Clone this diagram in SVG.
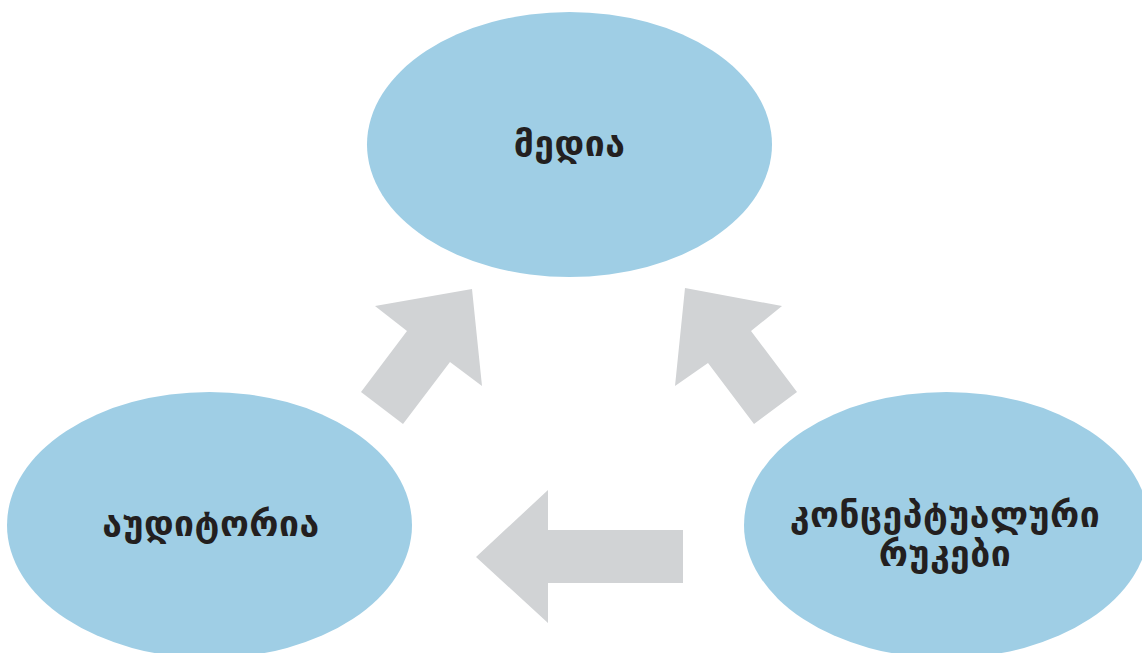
<svg xmlns="http://www.w3.org/2000/svg" width="1142" height="653" viewBox="0 0 1142 653">
<style>
.node{fill:#9fcee5}
.lbl{font-family:"DejaVu Sans","Noto Sans",sans-serif;font-weight:bold;font-size:35.5px;letter-spacing:0.5px;fill:#231f20;text-anchor:middle}
.arr{fill:#d1d3d5}
</style>
<rect width="1142" height="653" fill="#ffffff"/>
<g id="connectors">
<polygon class="arr" points="472,289 375,306 407,331 361,392 403,424 450,362 482,386"/>
<polygon class="arr" points="685,288 782,306 751,331 797,392 754,424 708,363 675,386"/>
<polygon class="arr" points="476,557 548,490 548,530 683,530 683,583 548,583 548,623"/>
</g>
<g id="media">
<ellipse class="node" cx="569.5" cy="144.5" rx="202.5" ry="132.5"/>
<text class="lbl" x="569.5" y="156">მედია</text>
</g>
<g id="audience">
<ellipse class="node" cx="209.5" cy="525" rx="202.5" ry="133"/>
<text class="lbl" x="211" y="536">აუდიტორია</text>
</g>
<g id="concept-maps">
<ellipse class="node" cx="946.5" cy="525" rx="202.5" ry="133"/>
<text class="lbl" x="945" y="527">კონცეპტუალური</text>
<text class="lbl" x="945" y="566">რუკები</text>
</g>
</svg>
